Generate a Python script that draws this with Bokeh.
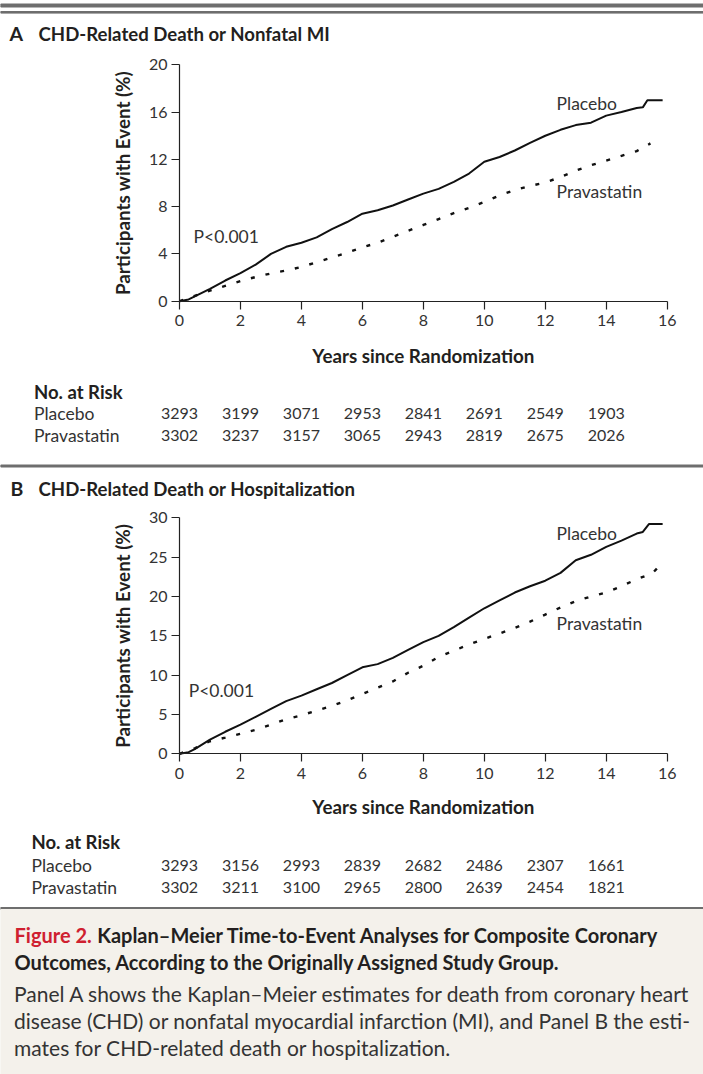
import math
from bokeh.plotting import figure
from bokeh.models import Range1d, FixedTicker, LinearAxis
from bokeh.core.properties import value
from bokeh.embed import file_html
from bokeh.resources import INLINE

# ---------------- data ----------------
years_ticks = [0, 2, 4, 6, 8, 10, 12, 14, 16]
yticks_a = [0, 4, 8, 12, 16, 20]
yticks_b = [0, 5, 10, 15, 20, 25, 30]

a_placebo_t = [0, 0.3, 0.5, 1.0, 1.5, 2.0, 2.5, 3.0, 3.5, 4.0, 4.5, 5.0, 5.5, 6.0, 6.5, 7.0, 7.5, 8.0,
               8.5, 9.0, 9.5, 10.0, 10.5, 11.0, 11.5, 12.0, 12.5, 13.0, 13.5, 14.0, 14.5, 15.0, 15.2, 15.35, 15.85]
a_placebo_v = [0, 0.15, 0.4, 1.05, 1.75, 2.37, 3.1, 4.0, 4.6, 4.95, 5.4, 6.1, 6.7, 7.4, 7.7, 8.1, 8.6, 9.1,
               9.5, 10.1, 10.8, 11.8, 12.2, 12.75, 13.4, 14.0, 14.5, 14.9, 15.1, 15.7, 16.0, 16.35, 16.4, 17.0, 17.0]
a_prava_t = [0, 0.5, 1.0, 1.5, 2.0, 2.5, 3.0, 3.5, 4.0, 4.5, 5.0, 5.5, 6.0, 6.5, 7.0, 7.5, 8.0, 8.5,
             9.0, 9.5, 10.0, 10.5, 11.0, 11.5, 12.0, 12.5, 13.0, 13.5, 14.0, 14.5, 15.0, 15.45]
a_prava_v = [0, 0.45, 0.9, 1.3, 1.7, 2.05, 2.35, 2.6, 2.9, 3.3, 3.7, 4.1, 4.55, 4.95, 5.45, 5.95, 6.45, 6.95,
             7.45, 7.9, 8.4, 8.95, 9.4, 9.75, 10.05, 10.5, 11.05, 11.5, 11.9, 12.3, 12.7, 13.35]

b_placebo_t = [0, 0.3, 0.5, 1.0, 1.5, 2.0, 2.5, 3.0, 3.5, 4.0, 4.5, 5.0, 5.5, 6.0, 6.5, 7.0, 7.5, 8.0,
               8.5, 9.0, 9.5, 10.0, 10.5, 11.0, 11.5, 12.0, 12.5, 13.0, 13.5, 14.0, 14.5, 15.0, 15.2, 15.4, 15.85]
b_placebo_v = [0, 0.2, 0.6, 1.8, 2.8, 3.7, 4.7, 5.7, 6.7, 7.4, 8.2, 9.0, 10.0, 11.0, 11.4, 12.2, 13.2, 14.2,
               15.0, 16.1, 17.3, 18.5, 19.5, 20.5, 21.3, 22.0, 23.0, 24.6, 25.3, 26.3, 27.1, 28.0, 28.2, 29.2, 29.2]
b_prava_t = [0, 0.5, 1.0, 1.5, 2.0, 2.5, 3.0, 3.5, 4.0, 4.5, 5.0, 5.5, 6.0, 6.5, 7.0, 7.5, 8.0, 8.5,
             9.0, 9.5, 10.0, 10.5, 11.0, 11.5, 12.0, 12.5, 13.0, 13.5, 14.0, 14.5, 15.0, 15.5, 15.7]
b_prava_v = [0, 0.7, 1.6, 2.05, 2.55, 3.05, 3.7, 4.4, 4.9, 5.5, 6.1, 6.8, 7.6, 8.4, 9.2, 10.3, 11.2, 12.3,
             13.1, 13.9, 14.6, 15.3, 16.0, 16.8, 17.7, 18.6, 19.4, 20.0, 20.5, 21.3, 22.2, 22.9, 23.7]

risk_years = [0, 2, 4, 6, 8, 10, 12, 14]
a_risk_placebo = [3293, 3199, 3071, 2953, 2841, 2691, 2549, 1903]
a_risk_prava = [3302, 3237, 3157, 3065, 2943, 2819, 2675, 2026]
b_risk_placebo = [3293, 3156, 2993, 2839, 2682, 2486, 2307, 1661]
b_risk_prava = [3302, 3211, 3100, 2965, 2800, 2639, 2454, 1821]

# ---------------- layout / style ----------------
FNAME = "Lato"
FONT = value(FNAME)
W, H = 703, 1074
X0_PX, X16_PX = 179.0, 666.7          # canvas px of year 0 and year 16
PPY = (X16_PX - X0_PX) / 16.0
INK = "#231f20"
TXT = "#333333"
GRAY = "#6e6e6e"
BEIGE = "#f4f1eb"

p = figure(width=W, height=H, x_range=Range1d(0, W), y_range=Range1d(H, 0),
           output_backend="svg", toolbar_location=None, min_border=0,
           x_axis_type=None, y_axis_type=None)
p.grid.visible = False
p.outline_line_color = None

p.extra_x_ranges = {"yrs": Range1d(-X0_PX / PPY, (W - X0_PX) / PPY)}


def vrange(px_lo, px_hi, v_lo, v_hi):
    """y range mapping value v_lo to canvas px_lo (from top) and v_hi to px_hi."""
    b_lo, b_hi = H - px_lo, H - px_hi
    s = (b_hi - b_lo) / (v_hi - v_lo)
    start = v_lo - b_lo / s
    return Range1d(start, start + H / s)


p.extra_y_ranges = {"pctA": vrange(300.7, 64.3, 0, 20),
                    "pctB": vrange(753.3, 517.3, 0, 30)}


def style_axis(ax):
    ax.axis_line_color = "#222222"
    ax.axis_line_width = 1.2
    ax.major_tick_line_color = "#222222"
    ax.major_tick_line_width = 1.2
    ax.major_tick_out = 8
    ax.major_tick_in = 0
    ax.minor_tick_line_color = None
    ax.major_label_text_font = FNAME
    ax.major_label_text_font_size = "16px"
    ax.major_label_text_color = TXT


def panel(rname, yticks, ymax, pt, pv, qt, qv, plac_xy, prav_xy, p_xy, xlabel_px, ylabel_px):
    xa = LinearAxis(x_range_name="yrs", y_range_name=rname, fixed_location=0,
                    bounds=(0, 16), ticker=FixedTicker(ticks=years_ticks))
    style_axis(xa)
    xa.major_label_standoff = 6
    p.add_layout(xa, "below")
    ya = LinearAxis(x_range_name="yrs", y_range_name=rname, fixed_location=0,
                    bounds=(0, ymax), ticker=FixedTicker(ticks=yticks))
    style_axis(ya)
    ya.major_label_standoff = 4
    p.add_layout(ya, "left")

    p.line(pt, pv, x_range_name="yrs", y_range_name=rname, line_color="#111111", line_width=2)
    p.line(qt, qv, x_range_name="yrs", y_range_name=rname, line_color="#111111",
           line_width=2.4, line_dash="4 11")
    p.text(x=[plac_xy[0], prav_xy[0], p_xy[0]], y=[plac_xy[1], prav_xy[1], p_xy[1]],
           text=["Placebo", "Pravastatin", "P<0.001"], x_range_name="yrs", y_range_name=rname,
           text_font=FONT, text_font_size="17.5px", text_color=TXT, text_baseline="middle")
    # axis titles
    p.text(x=[8], y=[xlabel_px], text=["Years since Randomization"], x_range_name="yrs",
           text_font=FONT, text_font_size="18.8px", text_font_style="bold", text_color=INK,
           text_baseline="middle", text_align="center")
    p.text(x=[122], y=[ylabel_px], text=["Participants with Event (%)"], angle=math.pi / 2,
           text_font=FONT, text_font_size="18.8px", text_font_style="bold", text_color=INK,
           text_baseline="middle", text_align="center")


def risk(hy, r1y, r2y, lx, placebo, prava):
    p.text(x=[lx], y=[hy], text=["No. at Risk"], text_font=FONT, text_font_size="18.5px",
           text_font_style="bold", text_color=INK, text_baseline="middle")
    p.text(x=[lx, lx], y=[r1y, r2y], text=["Placebo", "Pravastatin"], text_font=FONT,
           text_font_size="17.5px", text_color=TXT, text_baseline="middle")
    p.text(x=risk_years + risk_years, y=[r1y] * len(risk_years) + [r2y] * len(risk_years),
           text=[str(v) for v in placebo] + [str(v) for v in prava], x_range_name="yrs",
           text_font=FONT, text_font_size="16px", text_color=TXT,
           text_baseline="middle", text_align="center")


def title(y, lx, letter, text):
    p.text(x=[lx], y=[y], text=[letter], text_font=FONT, text_font_size="19.5px",
           text_font_style="bold", text_color=INK, text_baseline="middle")
    p.text(x=[38], y=[y], text=[text], text_font=FONT, text_font_size="18.6px",
           text_font_style="bold", text_color=INK, text_baseline="middle")


# top double rule and panel A
p.quad(left=[0, 0], right=[W, W], top=[3.5, 11], bottom=[6.5, 12.6], color=GRAY)
title(33, 9, "A", "CHD-Related Death or Nonfatal MI")
panel("pctA", yticks_a, 20, a_placebo_t, a_placebo_v, a_prava_t, a_prava_v,
      (12.37, 16.7), (12.37, 9.28), (0.46, 5.47), 355, 182.5)
risk(391.7, 413.3, 435.0, 33.5, a_risk_placebo, a_risk_prava)

# separator and panel B
p.quad(left=[0], right=[W], top=[464.5], bottom=[466.5], color=GRAY)
title(488, 10, "B", "CHD-Related Death or Hospitalization")
panel("pctB", yticks_b, 30, b_placebo_t, b_placebo_v, b_prava_t, b_prava_v,
      (12.37, 28.0), (12.37, 16.6), (0.30, 8.0), 806, 635.3)
risk(841.7, 865.0, 886.7, 31.0, b_risk_placebo, b_risk_prava)

# caption box
p.quad(left=[0], right=[W], top=[907], bottom=[909], color=GRAY)
p.quad(left=[0], right=[W], top=[909], bottom=[H], color=BEIGE)
p.text(x=[14], y=[934.5], text=["Figure 2."], text_font=FONT, text_font_size="20px",
       text_font_style="bold", text_color="#cf2030", text_baseline="middle")
p.text(x=[96.7, 14], y=[934.5, 961.5],
       text=["Kaplan\u2013Meier Time-to-Event Analyses for Composite Coronary",
             "Outcomes, According to the Originally Assigned Study Group."],
       text_font=FONT, text_font_size="20px", text_font_style="bold", text_color=INK,
       text_baseline="middle")
p.text(x=[13.5, 13.5, 13.5], y=[993.3, 1020.0, 1046.7],
       text=["Panel A shows the Kaplan\u2013Meier estimates for death from coronary heart",
             "disease (CHD) or nonfatal myocardial infarction (MI), and Panel B the esti-",
             "mates for CHD-related death or hospitalization."],
       text_font=FONT, text_font_size="21px", text_color=TXT, text_baseline="middle")

open("out.html", "w").write(file_html(p, INLINE))
